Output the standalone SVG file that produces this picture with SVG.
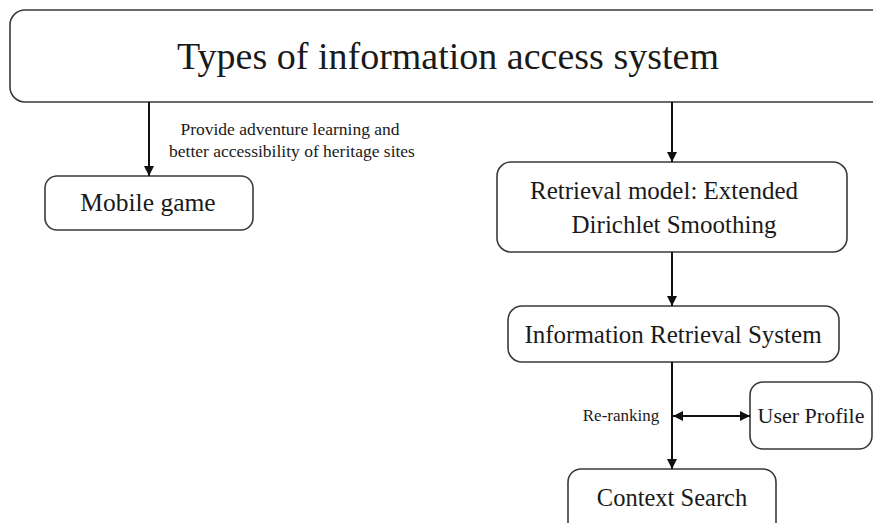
<svg xmlns="http://www.w3.org/2000/svg" width="873" height="523" viewBox="0 0 873 523">
<style>
.box{fill:#fff;stroke:#3a3a3a;stroke-width:1.6}
.t{font-family:"Liberation Serif","DejaVu Serif",serif;fill:#1a1a1a;text-anchor:middle}
.c{stroke:#111;stroke-width:2;fill:none}
</style>
<defs>
<marker id="ah" viewBox="0 0 10 10" refX="10" refY="5" markerWidth="5" markerHeight="5" orient="auto-start-reverse" markerUnits="strokeWidth">
<path d="M0,0 L10,5 L0,10 z" fill="#111"/>
</marker>
</defs>
<rect width="873" height="523" fill="#fff"/>
<g id="top">
<rect class="box" x="10" y="10" width="880" height="92" rx="15"/>
<text class="t" x="448" y="69" font-size="38">Types of information access system</text>
</g>
<g id="mobile">
<rect class="box" x="45" y="176" width="208" height="54" rx="12"/>
<text class="t" x="148" y="211" font-size="25.5">Mobile game</text>
</g>
<g id="retrieval">
<rect class="box" x="497" y="162" width="350" height="90" rx="14"/>
<text class="t" x="664" y="199" font-size="25">Retrieval model: Extended</text>
<text class="t" x="674" y="233" font-size="25">Dirichlet Smoothing</text>
</g>
<g id="irs">
<rect class="box" x="508" y="306" width="331" height="56" rx="14"/>
<text class="t" x="673" y="343" font-size="25">Information Retrieval System</text>
</g>
<g id="profile">
<rect class="box" x="750" y="382" width="122" height="67" rx="13"/>
<text class="t" x="811" y="423" font-size="22">User Profile</text>
</g>
<g id="context">
<rect class="box" x="568" y="469" width="208" height="70" rx="13"/>
<text class="t" x="672" y="506" font-size="24.5">Context Search</text>
</g>
<g id="connectors">
<line class="c" x1="149" y1="102" x2="149" y2="176" marker-end="url(#ah)"/>
<line class="c" x1="672" y1="102" x2="672" y2="162" marker-end="url(#ah)"/>
<line class="c" x1="672" y1="252" x2="672" y2="306" marker-end="url(#ah)"/>
<line class="c" x1="672" y1="362" x2="672" y2="469" marker-end="url(#ah)"/>
<line class="c" x1="673" y1="416" x2="750" y2="416" marker-start="url(#ah)" marker-end="url(#ah)"/>
<text class="t" x="290" y="135" font-size="17.5">Provide adventure learning and</text>
<text class="t" x="292" y="157" font-size="17.5">better accessibility of heritage sites</text>
<text class="t" x="621" y="421" font-size="17">Re-ranking</text>
</g>
</svg>
